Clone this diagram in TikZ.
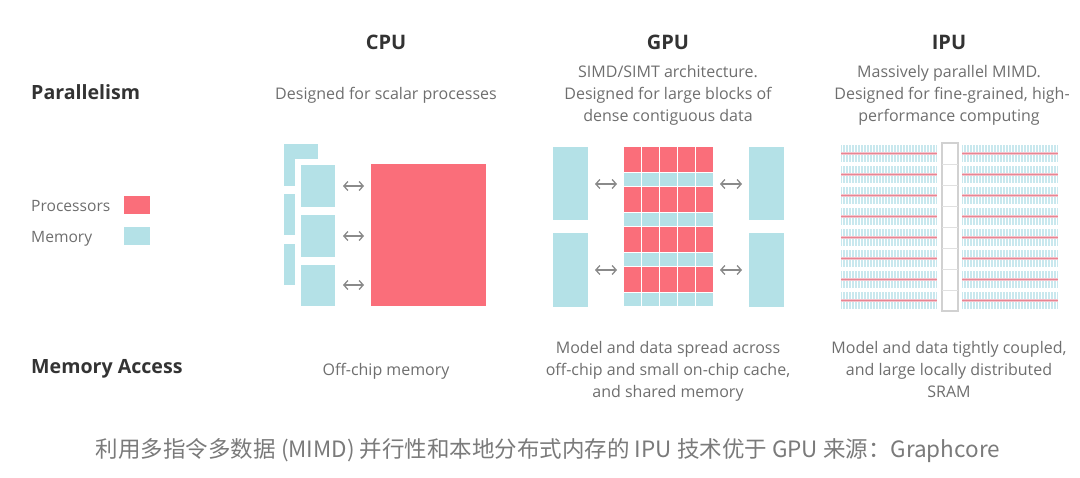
\documentclass[tikz,border=0pt]{standalone}
\usepackage{fontspec}
\setmainfont{Open Sans}
\newfontfamily\cjk{Noto Sans CJK SC}
\usetikzlibrary{arrows.meta}
\definecolor{proc}{HTML}{FA6E7A}
\definecolor{mem}{HTML}{B4E1E7}
\definecolor{memlight}{HTML}{C9E8EE}
\definecolor{pinkline}{HTML}{E98492}
\definecolor{pinkhalo}{HTML}{F3C3CB}
\definecolor{txt}{HTML}{6E6E6E}
\definecolor{head}{HTML}{333333}
\definecolor{arrgray}{HTML}{8A8A8A}
\definecolor{capgray}{HTML}{7A7A7A}
\newcommand\rbox[6]{\node[box,fill=#1,minimum width=#5pt,minimum height=#6pt] (#2) at (#3,#4) {};}
\begin{document}
\begin{tikzpicture}[x=1pt,y=-1pt,
  box/.style={inner sep=0pt,outer sep=0pt,draw=none,anchor=north west},
  hd/.style={inner sep=0pt,anchor=base,text=head,font=\bfseries\fontsize{20}{22}\selectfont},
  rowhd/.style={inner sep=0pt,anchor=base west,text=head,font=\bfseries\fontsize{19.6}{22}\selectfont},
  body/.style={inner sep=0pt,anchor=base,text=txt,font=\fontsize{16}{22}\selectfont},
  leg/.style={inner sep=0pt,anchor=base west,text=txt,font=\fontsize{15.6}{20}\selectfont},
  arr/.style={draw=arrgray,line width=1.3pt,{Straight Barb[length=4pt,width=9pt]}-{Straight Barb[length=4pt,width=9pt]}},
  captext/.style={inner sep=0pt,anchor=base,text=capgray,font=\cjk\fontsize{22.5}{26}\selectfont}]
\useasboundingbox (0,0) rectangle (1080,478);

% headings
\node[hd] (cpu) at (386,50) {CPU};
\node[hd] (gpu) at (668,50) {GPU};
\node[hd] (ipu) at (949,50) {IPU};
\node[rowhd] (par) at (31,100) {Parallelism};
\node[rowhd] (macc) at (31,374) {Memory Access};

% parallelism texts
\node[body] (cpud) at (386,100) {Designed for scalar processes};
\node[body] (gpud1) at (668,78) {SIMD/SIMT architecture.};
\node[body] (gpud2) at (668,100) {Designed for large blocks of};
\node[body] (gpud3) at (668,122) {dense contiguous data};
\node[body] (ipud1) at (949,78) {Massively parallel MIMD.};
\node[body] (ipud2) at (952,100) {Designed for fine-grained, high-};
\node[body] (ipud3) at (949,122) {performance computing};

% memory access texts
\node[body] (cpum) at (386,376) {Off-chip memory};
\node[body] (gpum1) at (668,354) {Model and data spread across};
\node[body] (gpum2) at (668,376) {off-chip and small on-chip cache,};
\node[body] (gpum3) at (668,398) {and shared memory};
\node[body] (ipum1) at (949,354) {Model and data tightly coupled,};
\node[body] (ipum2) at (949,376) {and large locally distributed};
\node[body] (ipum3) at (949,398) {SRAM};

% legend
\node[leg] (lproc) at (31,211.5) {Processors};
\node[leg] (lmem) at (31,242.5) {Memory};
\rbox{proc}{lprocbox}{124}{196}{26}{18}
\rbox{mem}{lmembox}{124}{227}{26}{18}

% CPU
\rbox{mem}{cback1}{284}{144}{34}{42}
\rbox{mem}{cback2}{284}{194}{34}{41}
\rbox{mem}{cback3}{284}{244}{34}{41}
\rbox{white}{cwhite1}{295}{159}{46}{54}
\rbox{white}{cwhite2}{295}{209}{46}{54}
\rbox{white}{cwhite3}{295}{259}{46}{53}
\rbox{mem}{cfront1}{301}{165}{34}{42}
\rbox{mem}{cfront2}{301}{215}{34}{42}
\rbox{mem}{cfront3}{301}{265}{34}{41}
\rbox{proc}{cproc}{371}{164}{115}{142}
\coordinate (ca1) at (343,186); \coordinate (cb1) at (364,186);
\coordinate (ca2) at (343,236); \coordinate (cb2) at (364,236);
\coordinate (ca3) at (343,285); \coordinate (cb3) at (364,285);
\draw[arr] (ca1) -- (cb1);
\draw[arr] (ca2) -- (cb2);
\draw[arr] (ca3) -- (cb3);

% GPU
\rbox{mem}{gl1}{553}{147}{35}{73}
\rbox{mem}{gl2}{553}{233}{35}{74}
\rbox{mem}{gr1}{749}{147}{35}{73}
\rbox{mem}{gr2}{749}{233}{35}{74}
\foreach \k in {0,1,2,3}{
  \rbox{proc}{gred\k}{624}{147+40*\k}{89}{25.5}
  \rbox{mem}{gblue\k}{624}{147+40*\k+26.5}{89}{12.5}
}
\foreach \c in {1,2,3,4}{
  \draw[white,line width=1pt] (624+17.8*\c,147) -- (624+17.8*\c,307);
}
\coordinate (gla1) at (595,184); \coordinate (glb1) at (617,184);
\coordinate (gla2) at (595,270); \coordinate (glb2) at (617,270);
\coordinate (gra1) at (720,184); \coordinate (grb1) at (742,184);
\coordinate (gra2) at (720,270); \coordinate (grb2) at (742,270);
\draw[arr] (gla1) -- (glb1);
\draw[arr] (gla2) -- (glb2);
\draw[arr] (gra1) -- (grb1);
\draw[arr] (gra2) -- (grb2);

% IPU
\foreach \i in {0,...,7}{
  \rbox{memlight}{il\i}{841}{145+21*\i}{96}{17}
  \rbox{memlight}{ir\i}{962}{145+21*\i}{96}{17}
  \foreach \s in {0,...,31}{
    \draw[white,line width=0.9pt] (842.5+3*\s,145+21*\i) -- ++(0,17);
    \draw[white,line width=0.9pt] (963.5+3*\s,145+21*\i) -- ++(0,17);
  }
  \draw[pinkhalo,line width=3pt] (841,153.5+21*\i) -- ++(96,0);
  \draw[pinkhalo,line width=3pt] (962,153.5+21*\i) -- ++(96,0);
  \draw[pinkline,line width=1.2pt] (841,153.5+21*\i) -- ++(96,0);
  \draw[pinkline,line width=1.2pt] (962,153.5+21*\i) -- ++(96,0);
}
\node[box,draw=black!18,line width=1.2pt,minimum width=16pt,minimum height=168pt] (icol) at (942,143) {};
\foreach \i in {1,...,7}{
  \draw[black!12,line width=1pt] (942,143.5+21*\i) -- ++(16,0);
}

% caption
\node[captext] (caption) at (548,457) {利用多指令多数据 (MIMD) 并行性和本地分布式内存的 IPU 技术优于 GPU 来源：Graphcore};
\end{tikzpicture}
\end{document}
